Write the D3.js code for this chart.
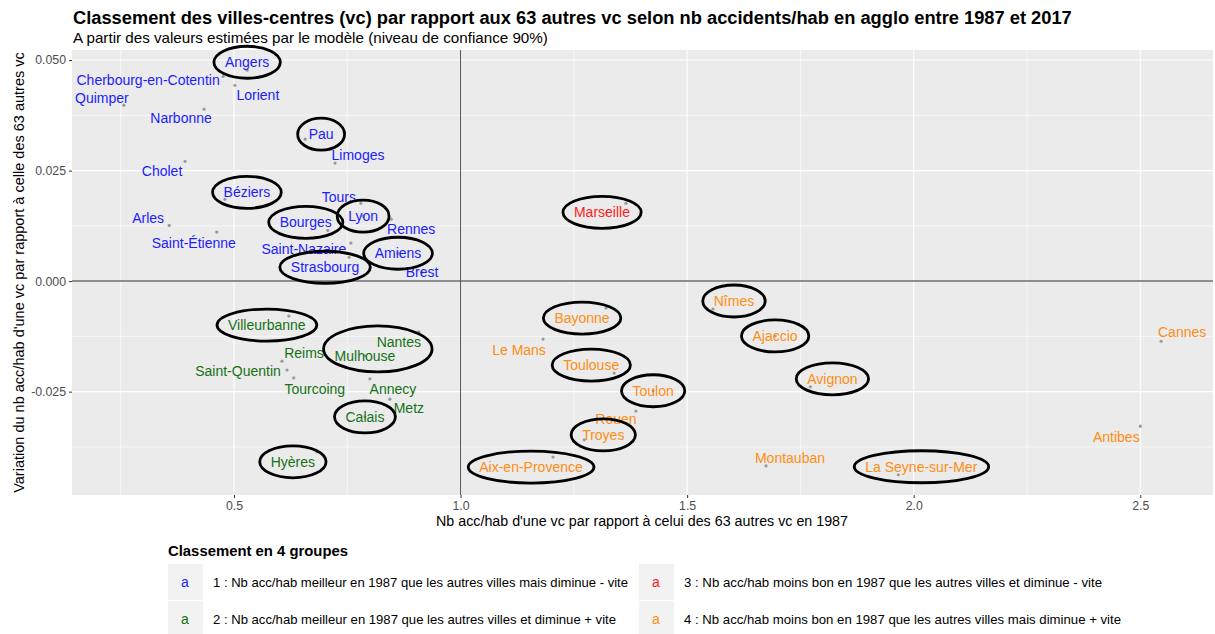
<!DOCTYPE html>
<html>
<head>
<meta charset="utf-8">
<script src="https://cdn.jsdelivr.net/npm/d3@7"></script>
<style>
  body { margin: 0; background: #ffffff; }
  svg { display: block; font-family: "Liberation Sans", Arial, sans-serif; }
</style>
</head>
<body>
<svg id="chart" width="1215" height="634"></svg>
<script>
// City-centre data: ratio of accidents/inhabitant vs the 63 others in 1987,
// and estimated variation of that ratio between 1987 and 2017.
const cities = [
  "Angers", "Cherbourg-en-Cotentin", "Lorient", "Quimper", "Narbonne", "Pau", "Limoges",
  "Cholet", "Béziers", "Tours", "Lyon", "Rennes", "Arles", "Saint-Étienne", "Bourges",
  "Saint-Nazaire", "Amiens", "Strasbourg", "Brest",
  "Marseille",
  "Villeurbanne", "Nantes", "Mulhouse", "Reims", "Saint-Quentin", "Tourcoing", "Annecy",
  "Metz", "Calais", "Hyères",
  "Nîmes", "Bayonne", "Ajaccio", "Le Mans", "Toulouse", "Avignon", "Toulon", "Rouen",
  "Troyes", "Aix-en-Provence", "Montauban", "La Seyne-sur-Mer", "Cannes", "Antibes"
];
const ratio1987 = [
  0.529, 0.476, 0.502, 0.257, 0.434, 0.657, 0.723,
  0.392, 0.480, 0.780, 0.785, 0.847, 0.357, 0.462, 0.707,
  0.758, 0.862, 0.754, 0.915,
  1.365,
  0.621, 0.908, 0.789, 0.606, 0.617, 0.632, 0.800,
  0.844, 0.789, 0.683,
  1.557, 1.321, 1.694, 1.182, 1.339, 1.772, 1.425, 1.387,
  1.273, 1.204, 1.674, 1.966, 2.546, 2.500
];
const variation = [
  0.0477, 0.0463, 0.0443, 0.0398, 0.0389, 0.0321, 0.0267,
  0.0271, 0.0185, 0.0176, 0.0147, 0.0140, 0.0126, 0.0111, 0.0115,
  0.0086, 0.0063, 0.0054, 0.0020,
  0.0176,
  -0.0079, -0.0115, -0.0169, -0.0181, -0.0201, -0.0219, -0.0221,
  -0.0267, -0.0307, -0.0386,
  -0.0063, -0.0061, -0.0124, -0.0131, -0.0208, -0.0239, -0.0248, -0.0294,
  -0.0359, -0.0398, -0.0418, -0.0438, -0.0136, -0.0328
];
const groups = [
  1, 1, 1, 1, 1, 1, 1, 1, 1, 1, 1, 1, 1, 1, 1, 1, 1, 1, 1,
  3,
  2, 2, 2, 2, 2, 2, 2, 2, 2, 2,
  4, 4, 4, 4, 4, 4, 4, 4, 4, 4, 4, 4, 4, 4
];
// Repelled label placement, in pixels from each point
const labelNudge = [
  [0, -8], [-75, 4], [23, 10], [-22, -7], [-23, 9], [16, -5], [23, -8],
  [-23, 10], [22, -7], [-22, -6], [0, 0], [20, 10], [-21, -7], [-23, 11], [-22, -8],
  [-47, 6], [0, 0], [-24, 10], [0, 0],
  [-24, 9],
  [-22, 9], [-20, 10], [0, 0], [22, -8], [-49, 1], [21, 11], [23, 10],
  [19, 9], [0, 0], [-24, 10],
  [21, -8], [-24, 10], [0, 0], [-24, 11], [-23, -8], [22, -8], [0, 0], [-20, 8],
  [19, -5], [-22, 10], [24, -8], [23, -8], [21, -9], [-24, 11]
];
// Cities highlighted with a hand-drawn ring (one ring may enclose several labels)
const circled = [
  ["Angers"], ["Pau"], ["Béziers"], ["Bourges"], ["Lyon"], ["Amiens"], ["Strasbourg"],
  ["Marseille"], ["Villeurbanne"], ["Nantes", "Mulhouse"], ["Calais"], ["Hyères"],
  ["Nîmes"], ["Bayonne"], ["Ajaccio"], ["Toulouse"], ["Avignon"], ["Toulon"],
  ["Troyes"], ["Aix-en-Provence"], ["La Seyne-sur-Mer"]
];
const groupLabels = [
  "1 : Nb acc/hab meilleur en 1987 que les autres villes mais diminue - vite",
  "2 : Nb acc/hab meilleur en 1987 que les autres villes et diminue + vite",
  "3 : Nb acc/hab moins bon en 1987 que les autres villes et diminue - vite",
  "4 : Nb acc/hab moins bon en 1987 que les autres villes mais diminue + vite"
];
const xTicks = [0.5, 1.0, 1.5, 2.0, 2.5];
const yTicks = [-0.025, 0.000, 0.025, 0.050];

const titleText = "Classement des villes-centres (vc) par rapport aux 63 autres vc selon nb accidents/hab en agglo entre 1987 et 2017";
const subtitleText = "A partir des valeurs estimées par le modèle (niveau de confiance 90%)";
const xTitle = "Nb acc/hab d'une vc par rapport à celui des 63 autres vc en 1987";
const yTitle = "Variation du nb acc/hab d'une vc par rapport à celle des 63 autres vc";
const legendTitle = "Classement en 4 groupes";

const groupColors = { 1: "#1c1cff", 2: "#157215", 3: "#ff1a1a", 4: "#ff8d12" };

const data = cities.map((c, i) => ({
  name: c, x: ratio1987[i], y: variation[i], g: groups[i], nudge: labelNudge[i]
}));

const svg = d3.select("#chart");
const panel = { left: 72, right: 1213, top: 50, bottom: 495 };

// ggplot-style 5% expansion of the data range
function expand(ext) { const d = (ext[1] - ext[0]) * 0.05; return [ext[0] - d, ext[1] + d]; }
const x = d3.scaleLinear().domain(expand(d3.extent(ratio1987))).range([panel.left, panel.right]);
const y = d3.scaleLinear().domain(expand(d3.extent(variation))).range([panel.bottom, panel.top]);

// Fit a text element's font size so that it spans a given width
function fitWidth(sel, target) {
  const fs = parseFloat(sel.attr("font-size"));
  const w = sel.node().getComputedTextLength();
  sel.attr("font-size", (fs * target / w).toFixed(2));
}

// Titles
const title = svg.append("text").attr("x", 73).attr("y", 24)
  .attr("font-size", 17).attr("font-weight", "bold").attr("fill", "#000").text(titleText);
fitWidth(title, 999);
const sub = svg.append("text").attr("x", 73).attr("y", 43)
  .attr("font-size", 14).attr("fill", "#000").text(subtitleText);
fitWidth(sub, 475);

// Panel background and grid
svg.append("rect").attr("x", panel.left).attr("y", panel.top)
  .attr("width", panel.right - panel.left).attr("height", panel.bottom - panel.top)
  .attr("fill", "#EBEBEB");

const g = svg.append("g");
const xMinor = d3.range(0.25, 3, 0.5).filter(v => v > x.domain()[0] && v < x.domain()[1]);
const yMinor = [-0.0625, -0.0375, -0.0125, 0.0125, 0.0375, 0.0625].filter(v => v > y.domain()[0] && v < y.domain()[1]);
g.selectAll(".xminor").data(xMinor).join("line")
  .attr("x1", d => x(d)).attr("x2", d => x(d)).attr("y1", panel.top).attr("y2", panel.bottom)
  .attr("stroke", "#fff").attr("stroke-width", 0.6);
g.selectAll(".yminor").data(yMinor).join("line")
  .attr("y1", d => y(d)).attr("y2", d => y(d)).attr("x1", panel.left).attr("x2", panel.right)
  .attr("stroke", "#fff").attr("stroke-width", 0.6);
g.selectAll(".xmajor").data(xTicks).join("line")
  .attr("x1", d => x(d)).attr("x2", d => x(d)).attr("y1", panel.top).attr("y2", panel.bottom)
  .attr("stroke", "#fff").attr("stroke-width", 1.1);
g.selectAll(".ymajor").data(yTicks).join("line")
  .attr("y1", d => y(d)).attr("y2", d => y(d)).attr("x1", panel.left).attr("x2", panel.right)
  .attr("stroke", "#fff").attr("stroke-width", 1.1);

// Reference lines: ratio = 1 and variation = 0
g.append("line").attr("x1", panel.left).attr("x2", panel.right).attr("y1", y(0)).attr("y2", y(0))
  .attr("stroke", "#8f8f8f").attr("stroke-width", 2);
g.append("line").attr("x1", x(1)).attr("x2", x(1)).attr("y1", panel.top).attr("y2", panel.bottom)
  .attr("stroke", "#555").attr("stroke-width", 1);

// Axes
const xAxis = d3.axisBottom(x).tickValues(xTicks).tickSize(3).tickPadding(3).tickFormat(d => d.toFixed(1));
const yAxis = d3.axisLeft(y).tickValues(yTicks).tickSize(3).tickPadding(3).tickFormat(d => d.toFixed(3));
const gx = svg.append("g").attr("transform", `translate(0,${panel.bottom})`).call(xAxis);
const gy = svg.append("g").attr("transform", `translate(${panel.left},0)`).call(yAxis);
[gx, gy].forEach(a => {
  a.select(".domain").remove();
  a.selectAll(".tick line").attr("stroke", "#333");
  a.selectAll(".tick text").attr("fill", "#4D4D4D").attr("font-size", 12.3)
    .attr("font-family", "Liberation Sans, Arial, sans-serif");
});

const xt = svg.append("text").attr("x", 642).attr("y", 526)
  .attr("text-anchor", "middle").attr("font-size", 13.5).attr("fill", "#000").text(xTitle);
fitWidth(xt, 412);
const yt = svg.append("text").attr("transform", `translate(24,${(panel.top + panel.bottom) / 2}) rotate(-90)`)
  .attr("text-anchor", "middle").attr("font-size", 13.5).attr("fill", "#000").text(yTitle);
fitWidth(yt, 441);

// Points
g.selectAll(".pt").data(data).join("circle")
  .attr("cx", d => x(d.x)).attr("cy", d => y(d.y)).attr("r", 1.6)
  .attr("fill", "#9a9a9a");

// Labels
const labels = g.selectAll(".lab").data(data).join("text")
  .attr("x", d => x(d.x) + d.nudge[0]).attr("y", d => y(d.y) + d.nudge[1])
  .attr("text-anchor", "middle").attr("dominant-baseline", "central")
  .attr("font-size", 14).attr("fill", d => groupColors[d.g]).text(d => d.name);

// Rings around highlighted labels
const boxes = {};
labels.each(function (d) { boxes[d.name] = this.getBBox(); });
circled.forEach(set => {
  const bs = set.map(n => boxes[n]);
  const x0 = d3.min(bs, b => b.x), x1 = d3.max(bs, b => b.x + b.width);
  const y0 = d3.min(bs, b => b.y), y1 = d3.max(bs, b => b.y + b.height);
  g.append("ellipse")
    .attr("cx", (x0 + x1) / 2).attr("cy", (y0 + y1) / 2)
    .attr("rx", (x1 - x0) / 2 + 11).attr("ry", (y1 - y0) / 2 + 8)
    .attr("fill", "none").attr("stroke", "#000").attr("stroke-width", 2.8);
});

// Legend
const lg = svg.append("g");
const lt = lg.append("text").attr("x", 168).attr("y", 556).attr("font-size", 14)
  .attr("font-weight", "bold").attr("fill", "#000").text(legendTitle);
fitWidth(lt, 180);
const keyPos = [[168, 564], [168, 601], [639, 564], [639, 601]];
const textLen = [415, 403, 418, 437];
groupLabels.forEach((lab, i) => {
  const [kx, ky] = keyPos[i];
  lg.append("rect").attr("x", kx).attr("y", ky).attr("width", 35).attr("height", 36).attr("fill", "#F2F2F2");
  lg.append("text").attr("x", kx + 17).attr("y", ky + 18).attr("text-anchor", "middle")
    .attr("dominant-baseline", "central").attr("font-size", 14).attr("fill", groupColors[i + 1]).text("a");
  lg.append("text").attr("x", kx + 45).attr("y", ky + 18).attr("dominant-baseline", "central")
    .attr("font-size", 13).attr("fill", "#000").attr("textLength", textLen[i])
    .attr("lengthAdjust", "spacingAndGlyphs").text(lab);
});
</script>
</body>
</html>
